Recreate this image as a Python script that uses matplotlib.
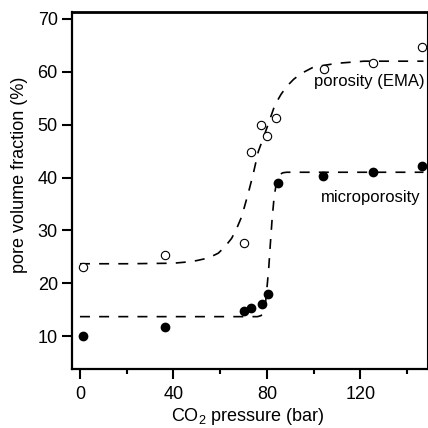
import matplotlib
matplotlib.use("Agg")
import matplotlib.pyplot as plt

plt.rcParams['font.family'] = ['Liberation Sans', 'DejaVu Sans']
plt.rcParams['mathtext.fontset'] = 'custom'
plt.rcParams['mathtext.rm'] = 'Liberation Sans'

# measured points
por_x = [1.4, 36.4, 70.2, 73.3, 77.3, 79.9, 84.0, 104.4, 125.5, 146.5]
por_y = [23.0, 25.4, 27.6, 44.9, 50.0, 47.9, 51.2, 60.5, 61.6, 64.7]
mic_x = [1.4, 36.4, 70.2, 73.3, 77.7, 80.4, 84.9, 104.1, 125.5, 146.5]
mic_y = [10.0, 11.8, 14.8, 15.3, 16.0, 18.0, 39.0, 40.2, 41.0, 42.1]

# dashed fit curves
por_fit_x = [0, 20, 40, 45, 50, 55, 59.2, 62, 64.9, 67, 69.2, 72.0, 74.2, 76.3, 79.2,
             81.5, 83.4, 86, 88.4, 91.5, 94.8, 100, 110, 121.5, 135, 147]
por_fit_y = [23.7, 23.7, 23.8, 24.0, 24.3, 24.8, 25.7, 26.9, 28.5, 30.3, 32.6, 37.0, 40.8,
             44.9, 48.4, 51.3, 53.7, 55.7, 57.2, 58.6, 59.7, 60.9, 61.6, 62.0, 62.0, 62.0]
mic_fit_x = [0, 40, 76, 77.5, 78.6, 79.4, 80.2, 80.8, 81.4, 82.2, 83.1, 84.0, 84.8,
             85.6, 86.8, 88.4, 95, 120, 147]
mic_fit_y = [13.7, 13.7, 13.7, 13.9, 14.5, 16.3, 20.0, 23.0, 27.0, 32.0, 36.4, 38.8,
             40.0, 40.6, 40.9, 41.0, 41.0, 41.0, 41.0]

x_major = [0, 40, 80, 120]
x_minor = [20, 60, 100, 140]
y_major = [10, 20, 30, 40, 50, 60, 70]

fig = plt.figure(figsize=(4.28, 4.28), dpi=100)
ax = fig.add_axes([72 / 428, 59 / 428, 355 / 428, 357 / 428])

dash = (0, (6, 5.5))
ax.plot(por_fit_x, por_fit_y, color='black', lw=1.2, ls=dash, zorder=2)
ax.plot(mic_fit_x, mic_fit_y, color='black', lw=1.2, ls=dash, zorder=2)

ax.plot(por_x, por_y, 'o', ms=6, mfc='white', mec='black', mew=0.8, zorder=3)
ax.plot(mic_x, mic_y, 'o', ms=6, mfc='black', mec='black', zorder=3)

ax.text(100.1, 58.2, 'porosity (EMA)', fontsize=12, va='center', ha='left')
ax.text(103.1, 36.3, 'microporosity', fontsize=12, va='center', ha='left')

ax.set_xlim(-3.4, 148.5)
ax.set_ylim(3.8, 71.3)
ax.set_xticks(x_major)
ax.set_xticks(x_minor, minor=True)
ax.set_yticks(y_major)

for s in ['left', 'bottom']:
    ax.spines[s].set_linewidth(1.6)
ax.spines['top'].set_linewidth(2.0)
ax.spines['right'].set_linewidth(0.8)

ax.tick_params(axis='both', which='major', direction='out', length=7.2, width=1.5,
               labelsize=13, pad=3)
ax.tick_params(axis='x', which='major', pad=5)
ax.tick_params(axis='x', which='minor', direction='out', length=3.5, width=1.5)

ax.set_xlabel(r'CO$_\mathrm{2}$ pressure (bar)', fontsize=13, va='center')
ax.xaxis.set_label_coords(0.496, -0.132)
ax.set_ylabel('pore volume fraction (%)', fontsize=13, va='center')
ax.yaxis.set_label_coords(-0.149, 0.543)

fig.savefig('out.png', dpi=100)
